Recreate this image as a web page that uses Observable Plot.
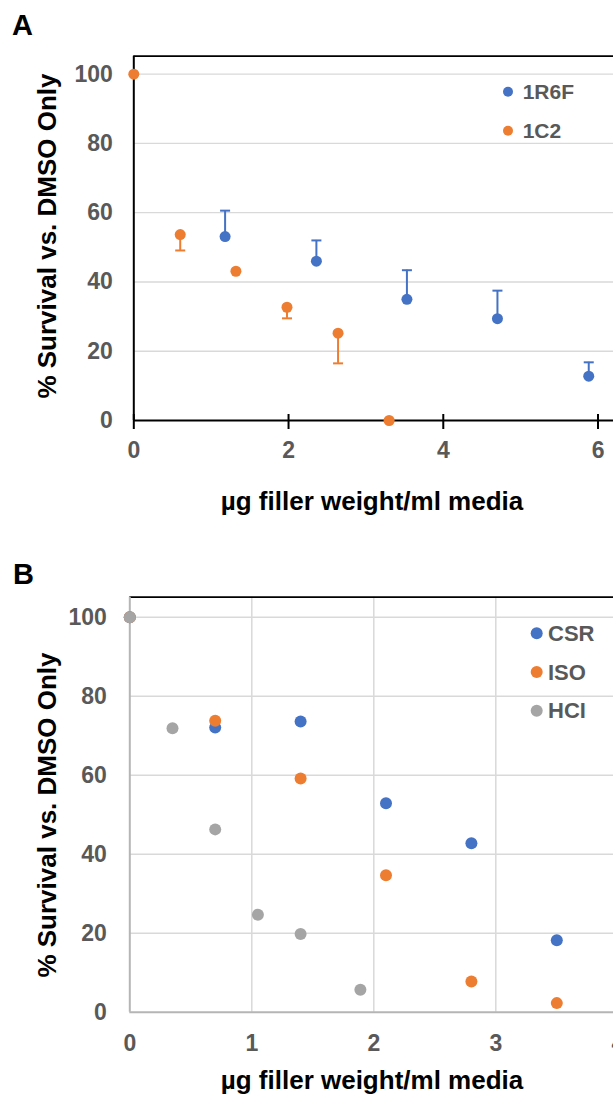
<!DOCTYPE html>
<html><head><meta charset="utf-8">
<script src="https://cdn.jsdelivr.net/npm/d3@7"></script>
<script src="https://cdn.jsdelivr.net/npm/@observablehq/plot@0.6"></script>
<style>
html,body{margin:0;padding:0;overflow:hidden;background:#fff;}
#wrap{position:relative;width:613px;height:1096px;overflow:hidden;font-family:"Liberation Sans",Arial,sans-serif;}
#wrap > svg{position:absolute;left:0;max-width:none !important;}
</style></head><body><div id="wrap"></div>
<script>
// ---------- Panel A data ----------
const seriesA = ["1R6F", "1C2"];
const colorsA = ["#4472C4", "#ED7D31"];
const x1R6F = [1.18, 2.36, 3.53, 4.70, 5.88];
const y1R6F = [53.1, 46.0, 35.0, 29.4, 12.8];
const errUp1R6F = [7.5, 6.0, 8.4, 8.1, 4.0];
const x1C2 = [0, 0.6, 1.32, 1.98, 2.64, 3.3];
const y1C2 = [100, 53.7, 43.1, 32.7, 25.2, 0];
const errDown1C2 = [0, 4.6, 0, 3.2, 8.7, 0];
const xTicksA = [0, 2, 4, 6];
const yTicksA = [0, 20, 40, 60, 80, 100];

// ---------- Panel B data ----------
const seriesB = ["CSR", "ISO", "HCI"];
const colorsB = ["#4472C4", "#ED7D31", "#A5A5A5"];
const xCSR = [0, 0.7, 1.4, 2.1, 2.8, 3.5];
const yCSR = [100, 72.1, 73.6, 52.9, 42.8, 18.2];
const xISO = [0, 0.7, 1.4, 2.1, 2.8, 3.5];
const yISO = [100, 73.8, 59.2, 34.7, 7.8, 2.3];
const xHCI = [0, 0.35, 0.7, 1.05, 1.4, 1.89];
const yHCI = [100, 71.9, 46.3, 24.7, 19.8, 5.7];
const xTicksB = [0, 1, 2, 3, 4];
const yTicksB = [0, 20, 40, 60, 80, 100];

const xTitle = "\u00b5g filler weight/ml media";
const yTitle = "% Survival vs. DMSO Only";

const FONT = '"Liberation Sans", Arial, sans-serif';
const wrap = document.getElementById("wrap");
const fmt = d => String(d);
const tickText = {fontSize: 23, fontWeight: "bold", fill: "#595959", label: null, tickFormat: fmt};

// build tables
const ptsA = [];
x1R6F.forEach((x, i) => ptsA.push({series: "1R6F", x, y: y1R6F[i], yEnd: y1R6F[i] + errUp1R6F[i], err: errUp1R6F[i]}));
x1C2.forEach((x, i) => ptsA.push({series: "1C2", x, y: y1C2[i], yEnd: y1C2[i] - errDown1C2[i], err: errDown1C2[i]}));
const errA = ptsA.filter(d => d.err > 0);

const capSymbol = {draw(ctx) { ctx.moveTo(-5, 0); ctx.lineTo(5, 0); }};

const yMaxA = 105.2;
const plotA = Plot.plot({
  width: 613, height: 540,
  marginLeft: 133.3, marginRight: 0, marginTop: 55.7, marginBottom: 120,
  style: {fontFamily: FONT, background: "transparent", overflow: "visible", maxWidth: "none"},
  x: {domain: [0, 6.2]},
  y: {domain: [0, yMaxA]},
  color: {domain: seriesA, range: colorsA},
  marks: [
    Plot.ruleY(yTicksA.filter(v => v > 0), {stroke: "#d9d9d9", strokeWidth: 1.3}),
    Plot.ruleY([yMaxA], {stroke: "#000", strokeWidth: 1.7}),
    Plot.ruleY([0], {stroke: "#000", strokeWidth: 2}),
    Plot.ruleX([0], {stroke: "#000", strokeWidth: 2}),
    Plot.axisY({ticks: yTicksA, tickSize: 0, tickPadding: 21, ...tickText}),
    Plot.axisX({ticks: xTicksA, tickSize: 0, tickPadding: 21, ...tickText}),
    Plot.axisX({ticks: xTicksA, tickSize: 15, dy: -6, stroke: "#000", strokeWidth: 2, tickFormat: () => "", label: null}),
    Plot.ruleX(errA, {x: "x", y1: "y", y2: "yEnd", stroke: "series", strokeWidth: 2}),
    Plot.dot(errA, {x: "x", y: "yEnd", symbol: capSymbol, r: 5, stroke: "series", strokeWidth: 2, fill: "none"}),
    Plot.dot(ptsA, {x: "x", y: "y", fill: "series", r: 5.5})
  ]
});
plotA.style.top = "0px";
wrap.appendChild(plotA);

const ptsB = [];
xCSR.forEach((x, i) => ptsB.push({series: "CSR", x, y: yCSR[i]}));
xISO.forEach((x, i) => ptsB.push({series: "ISO", x, y: yISO[i]}));
xHCI.forEach((x, i) => ptsB.push({series: "HCI", x, y: yHCI[i]}));

const yMaxB = 105.1;
const plotB = Plot.plot({
  width: 640, height: 556,
  marginLeft: 129.3, marginRight: 22.7, marginTop: 56.7, marginBottom: 84.3,
  style: {fontFamily: FONT, background: "transparent", overflow: "visible", maxWidth: "none"},
  x: {domain: [0, 4]},
  y: {domain: [0, yMaxB]},
  color: {domain: seriesB, range: colorsB},
  marks: [
    Plot.ruleX(xTicksB.filter(v => v > 0), {stroke: "#d9d9d9", strokeWidth: 1.5}),
    Plot.ruleY(yTicksB.filter(v => v > 0), {stroke: "#d9d9d9", strokeWidth: 1.5}),
    Plot.ruleY([yMaxB], {stroke: "#000", strokeWidth: 1.7}),
    Plot.ruleX([0], {stroke: "#b5b5b5", strokeWidth: 2}),
    Plot.ruleY([0], {stroke: "#b5b5b5", strokeWidth: 2}),
    Plot.axisY({ticks: yTicksB, tickSize: 0, tickPadding: 23, ...tickText}),
    Plot.axisX({ticks: xTicksB, tickSize: 0, tickPadding: 22.5, ...tickText}),
    Plot.dot(ptsB, {x: "x", y: "y", fill: "series", r: 6})
  ]
});
plotB.style.top = "540px";
wrap.appendChild(plotB);

// ---------- overlay: panel letters, titles, legends ----------
const ov = d3.select(wrap).append("svg")
  .attr("width", 613).attr("height", 1096)
  .style("position", "absolute").style("top", "0px").style("left", "0px")
  .style("font-family", FONT).style("pointer-events", "none");

ov.append("text").attr("x", 12).attr("y", 35).attr("font-size", 29).attr("font-weight", "bold").attr("fill", "#000").text("A");
ov.append("text").attr("x", 13).attr("y", 583.5).attr("font-size", 29).attr("font-weight", "bold").attr("fill", "#000").text("B");

[[510, 236], [1088.5, 815]].forEach(([xb, yc]) => {
  ov.append("text").attr("x", 372).attr("y", xb).attr("text-anchor", "middle")
    .attr("font-size", 26).attr("font-weight", "bold").attr("fill", "#000").text(xTitle);
  ov.append("text").attr("transform", `translate(56,${yc}) rotate(-90)`).attr("text-anchor", "middle")
    .attr("font-size", 26).attr("font-weight", "bold").attr("fill", "#000").text(yTitle);
});

seriesA.forEach((s, i) => {
  const cy = 91.7 + i * 39;
  ov.append("circle").attr("cx", 508).attr("cy", cy).attr("r", 5).attr("fill", colorsA[i]);
  ov.append("text").attr("x", 522.7).attr("y", cy + 7.4).attr("font-size", 21).attr("font-weight", "bold").attr("fill", "#595959").text(s);
});
seriesB.forEach((s, i) => {
  const cy = 633.3 + i * 38.7;
  ov.append("circle").attr("cx", 536.7).attr("cy", cy).attr("r", 6).attr("fill", colorsB[i]);
  ov.append("text").attr("x", 548).attr("y", cy + 7.7).attr("font-size", 22).attr("font-weight", "bold").attr("fill", "#595959").text(s);
});
</script></body></html>
